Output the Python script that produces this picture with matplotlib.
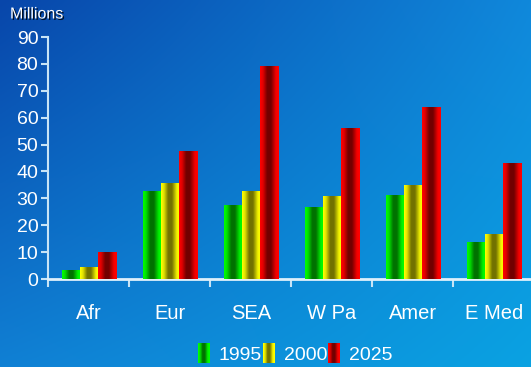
import numpy as np
import matplotlib
matplotlib.use("Agg")
import matplotlib.pyplot as plt
from matplotlib.patches import Rectangle
from matplotlib.legend_handler import HandlerBase
import matplotlib.patheffects as pe

regions = ["Afr", "Eur", "SEA", "W Pa", "Amer", "E Med"]
years = ["1995", "2000", "2025"]
v1995 = [3.3, 32.7, 27.5, 26.5, 30.9, 13.4]
v2000 = [4.1, 35.4, 32.7, 30.5, 34.6, 16.7]
v2025 = [9.7, 47.3, 79.2, 55.8, 63.6, 42.8]

base_colors = [(0.0, 1.0, 0.0), (1.0, 1.0, 0.0), (1.0, 0.0, 0.0)]

plt.rcParams['font.family'] = ['Liberation Sans', 'DejaVu Sans']


def shade_strip(rgb, n=40):
    # cylinder-like shading across the bar width: bright edges, dark core
    t = np.linspace(0, 1, n)
    f = np.interp(t, [0, 0.15, 0.38, 0.58, 0.85, 1.0], [1.0, 0.88, 0.45, 0.45, 0.95, 1.0])
    return np.array(rgb)[None, :] * f[:, None]


fig = plt.figure(figsize=(5.31, 3.67), dpi=100)

# blue background, darker towards the top-left corner
bg = fig.add_axes([0, 0, 1, 1], zorder=-10)
bg.axis('off')
tl = np.array([8, 70, 170]) / 255
tr = np.array([16, 136, 219]) / 255
bl = np.array([16, 128, 212]) / 255
br = np.array([10, 162, 226]) / 255
yy, xx = np.mgrid[0:1:200j, 0:1:300j]
img = ((1 - xx) * (1 - yy))[..., None] * tl + (xx * (1 - yy))[..., None] * tr \
    + ((1 - xx) * yy)[..., None] * bl + (xx * yy)[..., None] * br
bg.imshow(img, extent=[0, 1, 0, 1], aspect='auto', origin='upper')
bg.set_xlim(0, 1)
bg.set_ylim(0, 1)

ax = fig.add_axes([48 / 531, 1 - 279 / 367, (6 * 81.1) / 531, (279 - 37) / 367])
ax.patch.set_alpha(0)

x = np.arange(len(regions))
w = 0.222
for k, vals in enumerate([v1995, v2000, v2025]):
    bars = ax.bar(x + (k - 1) * w, vals, w, color=base_colors[k], zorder=2)
    strip = shade_strip(base_colors[k])[None, :, :]
    for b in bars:
        b.set_alpha(0)
        ax.imshow(strip, extent=[b.get_x(), b.get_x() + b.get_width(), 0, b.get_height()],
                  aspect='auto', zorder=3, interpolation='bilinear')

ax.set_xlim(-0.5, len(regions) - 0.5)
ax.set_ylim(0, 90)
ax.set_yticks(np.arange(0, 91, 10))
ax.set_xticks(np.arange(len(regions) + 1) - 0.5)
ax.set_xticklabels([])
ax.set_xticks(x, minor=True)
ax.set_xticklabels(regions, minor=True)

axis_col = '#c8e4f6'
for s in ['top', 'right']:
    ax.spines[s].set_visible(False)
ax.spines['left'].set_color(axis_col)
ax.spines['left'].set_linewidth(1.5)
ax.spines['bottom'].set_color('#dff0fb')
ax.spines['bottom'].set_linewidth(2)
ax.tick_params(axis='y', colors=axis_col, labelcolor='white', labelsize=14, length=5, width=1.5, pad=2)
ax.tick_params(axis='x', which='major', colors=axis_col, length=6, width=1.5, direction='out')
ax.tick_params(axis='x', which='minor', length=0, labelcolor='white', labelsize=14.5, pad=18)

fig.text(10 / 531, 1 - 14 / 367, "Millions", color='white', fontsize=11.5, va='center', ha='left',
         path_effects=[pe.withSimplePatchShadow(offset=(1, -1), shadow_rgbFace='black', alpha=0.8)])


class GradientHandler(HandlerBase):
    def __init__(self, rgb):
        super().__init__()
        self.rgb = rgb

    def create_artists(self, legend, orig_handle, xdescent, ydescent, width, height, fontsize, trans):
        cols = shade_strip(self.rgb, 12)
        n = len(cols)
        hh = height * 1.5
        y0 = -ydescent - (hh - height) / 2
        return [Rectangle((-xdescent + i * width / n, y0), width / n + 0.3, hh,
                          facecolor=c, edgecolor='none', transform=trans) for i, c in enumerate(cols)]


handles = [Rectangle((0, 0), 1, 1) for _ in years]
fig.legend(handles, years, loc='center', bbox_to_anchor=(295 / 531, 1 - 355 / 367), ncol=3,
           frameon=False, fontsize=14, labelcolor='white', handlelength=0.62, handletextpad=0.45,
           columnspacing=0.05, borderpad=0,
           handler_map={h: GradientHandler(c) for h, c in zip(handles, base_colors)})

fig.savefig("out.png", dpi=100)
